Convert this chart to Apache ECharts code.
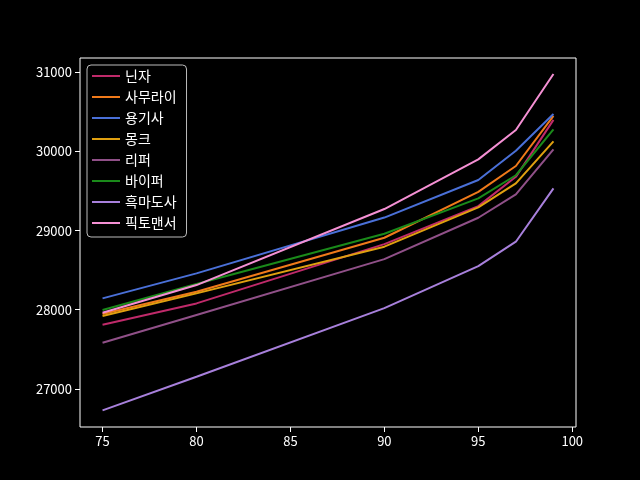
<!DOCTYPE html>
<html><head><meta charset="utf-8">
<script src="https://cdn.jsdelivr.net/npm/echarts@6/dist/echarts.min.js"></script>
<style>html,body{margin:0;padding:0;background:#000;}#c{width:640px;height:480px;}</style>
</head><body><div id="c"></div>
<script>
const levels = [75, 80, 90, 95, 97, 99];
const jobs = ['닌자','사무라이','용기사','몽크','리퍼','바이퍼','흑마도사','픽토맨서'];
const ninja   = [27810, 28080, 28830, 29310, 29680, 30400];
const samurai = [27946, 28228, 28910, 29490, 29817, 30450];
const dragoon = [28144, 28460, 29165, 29640, 30010, 30474];
const monk    = [27920, 28207, 28797, 29294, 29598, 30129];
const reaper  = [27583, 27933, 28640, 29163, 29459, 30028];
const viper   = [27996, 28325, 28960, 29408, 29700, 30280];
const blm     = [26728, 27153, 28020, 28552, 28860, 29534];
const pictomancer = [27962, 28312, 29273, 29901, 30272, 30980];
const xTicks = [75, 80, 85, 90, 95, 100];
const yTicks = [27000, 28000, 29000, 30000, 31000];
const colors = ['#c02a6a','#f07a1a','#4a70d8','#e0a010','#905088','#1a8a1a','#a880dc','#f590d4'];
const seriesData = [ninja, samurai, dragoon, monk, reaper, viper, blm, pictomancer];

const font = '"Noto Sans CJK KR", "Noto Sans", sans-serif';
const chart = echarts.init(document.getElementById('c'), null, {renderer: 'canvas'});
chart.setOption({
  backgroundColor: '#000',
  animation: false,
  color: colors,
  grid: {left: 80, right: 64, top: 58, bottom: 53, show: true, borderColor: '#fff', borderWidth: 1, backgroundColor: 'transparent'},
  xAxis: {
    type: 'value', min: 73.8, max: 100.2,
    axisLine: {show: false},
    splitLine: {show: false},
    axisTick: {show: true, inside: false, length: 5, lineStyle: {color: '#fff'}, customValues: xTicks},
    axisLabel: {color: '#fff', fontSize: 13, fontFamily: font, margin: 8, customValues: xTicks, formatter: v => String(v)}
  },
  yAxis: {
    type: 'value', min: 26518, max: 31182,
    axisLine: {show: false},
    splitLine: {show: false},
    axisTick: {show: true, inside: false, length: 5, lineStyle: {color: '#fff'}, customValues: yTicks},
    axisLabel: {color: '#fff', fontSize: 13, fontFamily: font, margin: 8, customValues: yTicks, formatter: v => String(v)}
  },
  legend: {
    orient: 'vertical', left: 87, top: 65,
    backgroundColor: '#000', borderColor: '#bbb', borderWidth: 1, borderRadius: 4,
    padding: [3, 10, 6, 5],
    itemWidth: 28, itemHeight: 2, icon: 'rect', itemGap: 5,
    textStyle: {color: '#fff', fontSize: 14, fontFamily: font, lineHeight: 16},
    data: jobs
  },
  series: jobs.map((name, i) => ({
    name, type: 'line', showSymbol: false, symbol: 'none',
    lineStyle: {width: 2},
    data: levels.map((l, j) => [l, seriesData[i][j]])
  }))
});
</script></body></html>
